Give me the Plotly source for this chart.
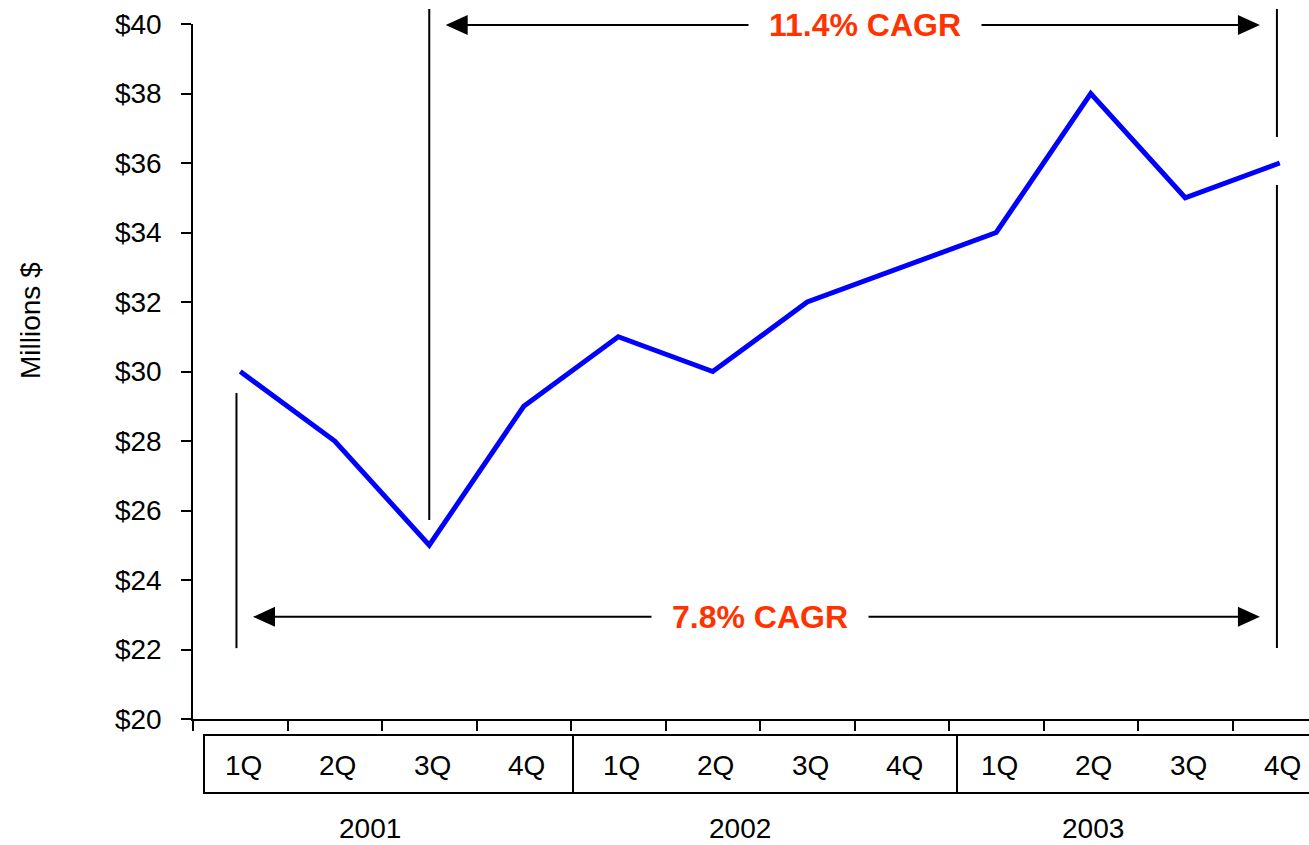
import plotly.graph_objects as go

# Quarterly revenue, millions of dollars
years = ["2001", "2002", "2003"]
quarters = ["1Q", "2Q", "3Q", "4Q"]
revenue = [30, 28, 25, 29, 31, 30, 32, 33, 34, 38, 35, 36]
y_ticks = [20, 22, 24, 26, 28, 30, 32, 34, 36, 38, 40]
y_tick_text = ["$%d" % v for v in y_ticks]
cagr_long = "7.8% CAGR"
cagr_short = "11.4% CAGR"

positions = list(range(len(revenue)))
quarter_labels = quarters * len(years)

W, H = 1309, 845
ML, MR, MT, MB = 193, 0, 24, 126
PLOT_H = H - MT - MB
Y_MIN, Y_MAX = 20, 40
FONT = "Liberation Sans, Arial, Helvetica, sans-serif"
ORANGE = "#FF3300"
TXT = 28
BOLD_TXT = 32


def py(pix):
    """Pixel row -> paper fraction."""
    return (H - MB - pix) / PLOT_H


def px(pix):
    """Pixel column -> x-axis data position."""
    return -0.5 + (pix - ML) / 94.5


def yp(val):
    """Y-axis value -> paper fraction (lets shapes poke past the axis range)."""
    return (val - Y_MIN) / (Y_MAX - Y_MIN)


fig = go.Figure()
fig.add_trace(go.Scatter(
    x=positions, y=revenue, mode="lines",
    line=dict(color="#0000FF", width=5),
    hoverinfo="skip", showlegend=False,
))

shapes = []
line_style = dict(color="black", width=2)

# vertical markers for the CAGR spans
shapes.append(dict(type="line", xref="x", yref="y", x0=-0.04, x1=-0.04,
                   y0=22.04, y1=29.38, line=line_style))
shapes.append(dict(type="line", xref="x", yref="paper", x0=2, x1=2,
                   y0=py(520), y1=py(9), line=line_style))
shapes.append(dict(type="line", xref="x", yref="paper", x0=10.97, x1=10.97,
                   y0=py(137), y1=py(9), line=line_style))
shapes.append(dict(type="line", xref="x", yref="y", x0=10.97, x1=10.97,
                   y0=22.04, y1=35.37, line=line_style))

# horizontal double-headed arrows
dx_head = 22 / 94.5
dy_head = 10 / 34.75
for (xl, xr, yv) in [(2.174, 10.79, 39.97), (0.135, 10.79, 22.94)]:
    shapes.append(dict(type="line", xref="x", yref="y", x0=xl + dx_head * 0.8,
                       x1=xr - dx_head * 0.8, y0=yv, y1=yv, line=line_style))
    for tip, back in [(xl, xl + dx_head), (xr, xr - dx_head)]:
        shapes.append(dict(type="path", xref="x", yref="paper",
                           path="M %f %f L %f %f L %f %f Z" % (
                               tip, yp(yv),
                               back, yp(yv + dy_head),
                               back, yp(yv - dy_head)),
                           fillcolor="black", line=dict(width=0)))

# year boxes under the axis
box_edges = [px(204), px(573), px(957), px(1340)]
box_top, box_bot = py(735), py(793)
for i in range(len(years)):
    shapes.append(dict(type="rect", xref="x", yref="paper",
                       x0=box_edges[i], x1=box_edges[i + 1], y0=box_bot, y1=box_top,
                       line=dict(color="black", width=2), fillcolor="rgba(0,0,0,0)"))

annotations = []
for pos, lab in zip(positions, quarter_labels):
    annotations.append(dict(x=pos + 0.03, y=py(765), xref="x", yref="paper", text=lab,
                            showarrow=False, font=dict(family=FONT, size=TXT, color="black"),
                            xanchor="center", yanchor="middle"))

year_centres = [px(370), px(740), px(1093)]
for xc, yr in zip(year_centres, years):
    annotations.append(dict(x=xc, y=py(828), xref="x", yref="paper", text=yr,
                            showarrow=False, font=dict(family=FONT, size=TXT, color="black"),
                            xanchor="center", yanchor="middle"))

annotations.append(dict(x=px(865), y=39.97, xref="x", yref="y", text="<b>%s</b>" % cagr_short,
                        showarrow=False, font=dict(family=FONT, size=BOLD_TXT, color=ORANGE),
                        bgcolor="white", borderpad=20, xanchor="center", yanchor="middle"))
annotations.append(dict(x=px(760), y=22.94, xref="x", yref="y", text="<b>%s</b>" % cagr_long,
                        showarrow=False, font=dict(family=FONT, size=BOLD_TXT, color=ORANGE),
                        bgcolor="white", borderpad=20, xanchor="center", yanchor="middle"))

annotations.append(dict(x=(30 - ML) / (W - ML - MR), y=py(321), xref="paper", yref="paper",
                        text="Millions $", textangle=-90, showarrow=False,
                        font=dict(family=FONT, size=TXT, color="black"),
                        xanchor="center", yanchor="middle"))

fig.update_layout(
    width=W, height=H,
    margin=dict(l=ML, r=MR, t=MT, b=MB, pad=0),
    paper_bgcolor="white", plot_bgcolor="white",
    font=dict(family=FONT, color="black"),
    shapes=shapes, annotations=annotations,
    xaxis=dict(range=[-0.5, px(W)], showgrid=False, zeroline=False,
               showline=True, linecolor="black", linewidth=1.5,
               ticks="outside", ticklen=10, tickwidth=1.5, tickcolor="black",
               tickvals=[i - 0.5 for i in positions], showticklabels=False),
    yaxis=dict(range=[Y_MIN, Y_MAX], showgrid=False, zeroline=False,
               showline=True, linecolor="black", linewidth=1.5,
               ticks="outside", ticklen=10, tickwidth=1.5, tickcolor="black",
               tickvals=y_ticks, ticktext=y_tick_text, ticklabelstandoff=14,
               tickfont=dict(family=FONT, size=TXT, color="black")),
)

fig.write_html("out.html")
